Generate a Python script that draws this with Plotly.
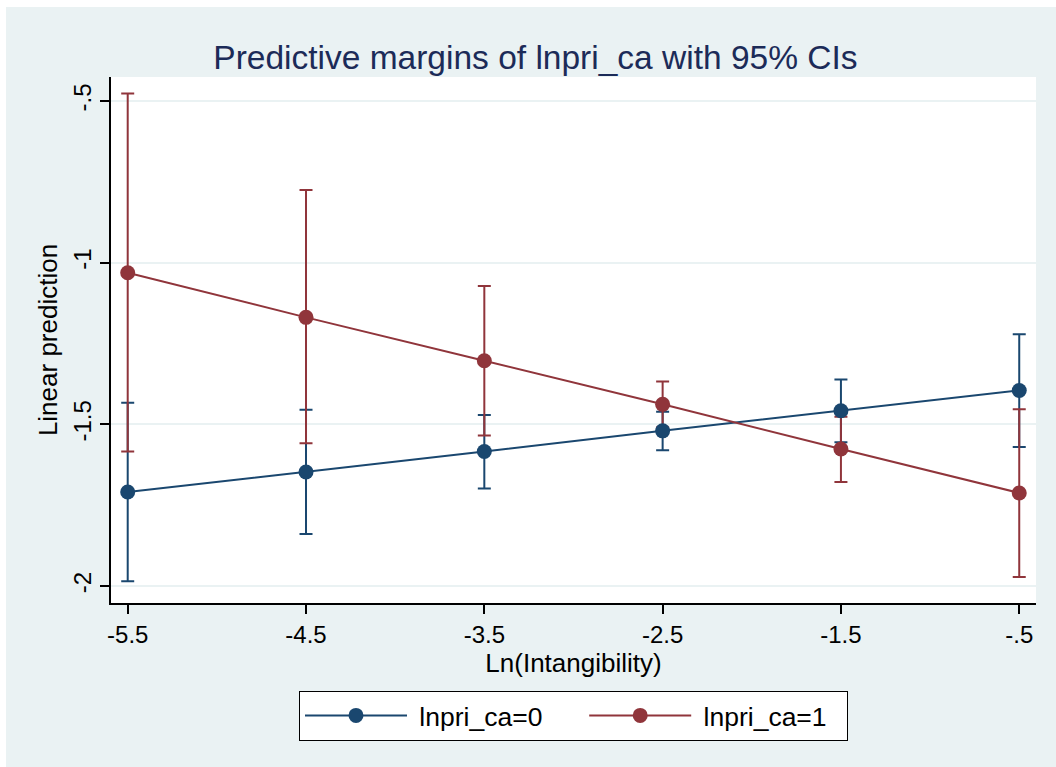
import plotly.graph_objects as go

# Predictive margins of lnpri_ca over Ln(Intangibility), with 95% CIs
intang = [-5.5, -4.5, -3.5, -2.5, -1.5, -0.5]
x_ticklabels = ["-5.5", "-4.5", "-3.5", "-2.5", "-1.5", "-.5"]
y_tickvals = [-2.0, -1.5, -1.0, -0.5]
y_ticklabels = ["-2", "-1.5", "-1", "-.5"]

margin_ca0 = [-1.709, -1.647, -1.584, -1.520, -1.458, -1.395]
ci_lo_ca0 = [-1.985, -1.839, -1.698, -1.580, -1.555, -1.570]
ci_hi_ca0 = [-1.433, -1.455, -1.471, -1.461, -1.361, -1.221]

margin_ca1 = [-1.031, -1.169, -1.303, -1.438, -1.576, -1.712]
ci_lo_ca1 = [-1.584, -1.558, -1.534, -1.509, -1.678, -1.972]
ci_hi_ca1 = [-0.477, -0.775, -1.072, -1.367, -1.476, -1.453]

NB = "\u00a0"
series = [
    ("lnpri_ca=0", NB + "lnpri_ca=0" + NB * 5, margin_ca0, ci_lo_ca0, ci_hi_ca0, "#1a476f"),
    ("lnpri_ca=1", NB + "lnpri_ca=1" + NB * 2, margin_ca1, ci_lo_ca1, ci_hi_ca1, "#90353b"),
]

BG = "#eaf2f3"
FONT = "Liberation Sans, Arial, sans-serif"

fig = go.Figure()

# confidence-interval caps first, so the connected lines sit on top
for key, label, m, lo, hi, col in series:
    fig.add_trace(go.Scatter(
        x=intang, y=m, mode="markers",
        marker=dict(size=1, color="rgba(0,0,0,0)"),
        error_y=dict(
            type="data", symmetric=False,
            array=[h - v for h, v in zip(hi, m)],
            arrayminus=[v - l for l, v in zip(lo, m)],
            color=col, thickness=2, width=6.5,
        ),
        showlegend=False, hoverinfo="skip",
    ))

for key, label, m, lo, hi, col in series:
    fig.add_trace(go.Scatter(
        x=intang, y=m, mode="lines+markers", name=label,
        line=dict(color=col, width=2),
        marker=dict(color=col, size=15),
    ))

L, R, T, B = 111, 20, 77, 164
W, H = 1056, 767
pw, ph = W - L - R, H - T - B

def px_to_paper_x(p):
    return (p - L) / pw

def px_to_paper_y(p):
    return (H - B - p) / ph

# thin white strip along the top and left edges of the graph region
fig.add_shape(type="rect", xref="paper", yref="paper",
              x0=px_to_paper_x(0), x1=px_to_paper_x(6),
              y0=px_to_paper_y(H), y1=px_to_paper_y(0),
              fillcolor="white", line=dict(width=0), layer="below")
fig.add_shape(type="rect", xref="paper", yref="paper",
              x0=px_to_paper_x(0), x1=px_to_paper_x(W),
              y0=px_to_paper_y(7), y1=px_to_paper_y(0),
              fillcolor="white", line=dict(width=0), layer="below")

fig.update_layout(
    width=W, height=H,
    margin=dict(l=L, r=R, t=T, b=B, autoexpand=False),
    paper_bgcolor=BG, plot_bgcolor="white",
    font=dict(family=FONT, color="black", size=24),
    title=dict(
        text="Predictive margins of lnpri_ca with 95% CIs",
        font=dict(size=33.5, color="#1c2b58", family=FONT),
        xref="container", x=0.507, xanchor="center",
        yref="container", y=1 - 57 / H, yanchor="middle",
    ),
    xaxis=dict(
        range=[-5.5937, -0.406],
        tickvals=intang, ticktext=x_ticklabels,
        showgrid=False, zeroline=False,
        showline=True, linecolor="black", linewidth=1.5,
        ticks="outside", ticklen=9, tickwidth=1.5, tickcolor="black",
        tickfont=dict(size=24),
        title=dict(text="Ln(Intangibility)", font=dict(size=26), standoff=4),
    ),
    yaxis=dict(
        range=[-2.0523, -0.4258],
        tickvals=y_tickvals, ticktext=y_ticklabels, tickangle=-90,
        showgrid=True, gridcolor=BG, gridwidth=2, zeroline=False,
        showline=True, linecolor="black", linewidth=1.5,
        ticks="outside", ticklen=9, tickwidth=1.5, tickcolor="black",
        tickfont=dict(size=24),
        title=dict(text="Linear prediction", font=dict(size=26), standoff=4),
    ),
    legend=dict(
        orientation="h", x=0.5, xanchor="center",
        y=px_to_paper_y(690.7), yanchor="top",
        bgcolor="white", bordercolor="black", borderwidth=1,
        font=dict(size=26.5), itemwidth=102,
    ),
)

fig.write_html("out.html")
